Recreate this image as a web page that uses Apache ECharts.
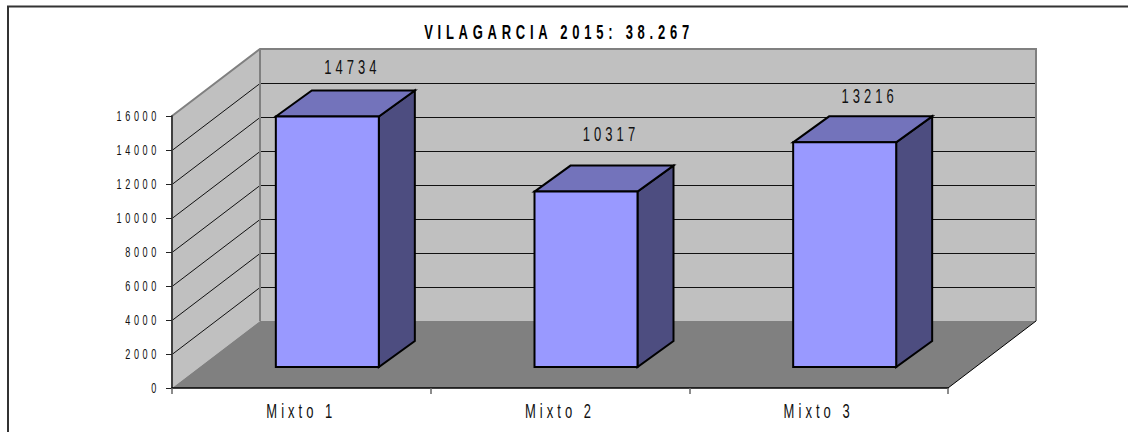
<!DOCTYPE html>
<html>
<head>
<meta charset="utf-8">
<style>
html,body{margin:0;padding:0;background:#fff}
#main{width:1128px;height:432px}
#main text{letter-spacing:5.6px}
#main text[style*="20px"]{letter-spacing:6.2px}
#main text[style*="bold"]{letter-spacing:7.3px}
</style>
<script src="https://cdn.jsdelivr.net/npm/echarts@6/dist/echarts.min.js"></script>
</head>
<body>
<div id="main"></div>
<script>
const chartTitle = 'VILAGARCIA 2015: 38.267';
const categories = ['Mixto 1', 'Mixto 2', 'Mixto 3'];
const values = [14734, 10317, 13216];
const yTicks = [0, 2000, 4000, 6000, 8000, 10000, 12000, 14000, 16000];
const labelLift = [49, 57, 46];

const DX = 88, DY = 67;        // depth of the plot box
const IN_X = 26, IN_Y = 21;    // front face of the bars inside the box
const BAR_DX = 36, BAR_DY = 26; // depth of one bar
const BAR_W = 103;
const FONT = '"Liberation Sans",Arial,sans-serif';
const NARROW = 0.65;           // horizontal squeeze of all text

function poly(points, fill, stroke, lw) {
  return { type: 'polygon', shape: { points }, style: { fill, stroke: stroke || 'none', lineWidth: lw || 0, lineJoin: 'miter' } };
}
function line(points, stroke, lw) {
  return { type: 'polyline', shape: { points }, style: { fill: 'none', stroke, lineWidth: lw } };
}

function renderBox(params, api) {
  const c = params.coordSys;
  const L = c.x, R = c.x + c.width, T = c.y, B = c.y + c.height;
  const kids = [];
  kids.push(poly([[L + DX, T - DY], [R + DX, T - DY], [R + DX, B - DY], [L + DX, B - DY]], '#C0C0C0'));
  kids.push(poly([[L, T], [L + DX, T - DY], [L + DX, B - DY], [L, B]], '#C0C0C0'));
  kids.push(poly([[L, B], [L + DX, B - DY], [R + DX, B - DY], [R, B]], '#808080'));
  yTicks.forEach(function (v) {
    if (v === yTicks[0] || v === yTicks[yTicks.length - 1]) return;
    const y = Math.round(api.coord([0, v])[1]) + 0.5;
    kids.push(line([[L, y], [L + DX, y - DY], [R + DX, y - DY]], '#111', 1));
  });
  kids.push(line([[L, T], [L + DX, T - DY], [R + DX, T - DY], [R + DX, B - DY]], '#808080', 2));
  kids.push(line([[L + DX, T - DY], [L + DX, B - DY]], '#808080', 2));
  kids.push(line([[R, B], [R + DX, B - DY]], '#000', 1));
  return { type: 'group', children: kids };
}

function renderBar(params, api) {
  const cat = api.value(0), val = api.value(1);
  const top = api.coord([cat, val]);
  const base = api.coord([cat, 0]);
  const xc = top[0] + IN_X;
  const x0 = xc - BAR_W / 2, x1 = xc + BAR_W / 2;
  const y0 = base[1] - IN_Y, y1 = top[1] - IN_Y;
  const st = '#000';
  return {
    type: 'group',
    children: [
      poly([[x1, y1], [x1 + BAR_DX, y1 - BAR_DY], [x1 + BAR_DX, y0 - BAR_DY], [x1, y0]], '#4D4D80', st, 2),
      poly([[x0, y1], [x0 + BAR_DX, y1 - BAR_DY], [x1 + BAR_DX, y1 - BAR_DY], [x1, y1]], '#7373BB', st, 2),
      poly([[x0, y1], [x1, y1], [x1, y0], [x0, y0]], '#9999FF', st, 2),
      {
        type: 'text',
        style: {
          text: String(val),
          x: xc + 25, y: y1 - labelLift[params.dataIndex],
          fill: '#111', font: '20px ' + FONT, align: 'center', verticalAlign: 'middle'
        }
      }
    ]
  };
}

const chart = echarts.init(document.getElementById('main'), null, { renderer: 'svg', width: 1128, height: 432 });
chart.setOption({
  animation: false,
  backgroundColor: '#fff',
  title: {
    text: chartTitle, left: 554, top: 17, textAlign: 'center',
    textStyle: { fontFamily: FONT, fontWeight: 'bold', fontSize: 20, color: '#000' }
  },
  grid: { left: 172, right: 180, top: 116, bottom: 44 },
  xAxis: {
    type: 'category', data: categories, z: 5,
    axisLine: { lineStyle: { color: '#000', width: 1.5 } },
    axisTick: { show: true, length: 6, lineStyle: { color: '#666', width: 1.5 } },
    axisLabel: { fontFamily: FONT, fontSize: 20, color: '#111', margin: 13 }
  },
  yAxis: {
    type: 'value', min: 0, max: 16000, interval: 2000, z: 5,
    splitLine: { show: false },
    axisLine: { show: true, lineStyle: { color: '#404040', width: 2 } },
    axisTick: { show: true, length: 6, lineStyle: { color: '#222', width: 1 } },
    axisLabel: { fontFamily: FONT, fontSize: 14, color: '#111', margin: 12, formatter: function (v) { return String(v); } }
  },
  graphic: [{
    type: 'polyline', silent: true,
    shape: { points: [[8, 432], [8, 6.5], [1128, 6.5]] },
    style: { fill: 'none', stroke: '#333', lineWidth: 2 }
  }],
  series: [
    { type: 'custom', coordinateSystem: 'cartesian2d', renderItem: renderBox, data: [[0, 0]], clip: false, silent: true, z: 1 },
    { type: 'custom', coordinateSystem: 'cartesian2d', renderItem: renderBar, encode: { x: 0, y: 1 }, clip: false, z: 2,
      data: categories.map(function (c, i) { return [i, values[i]]; }) }
  ]
});

function squeezeText() {
  document.querySelectorAll('#main svg text').forEach(function (el) {
    if (el.dataset.narrow) return;
    const x = parseFloat(el.getAttribute('x')) || 0;
    const prev = el.getAttribute('transform') || '';
    el.setAttribute('transform', prev + ' translate(' + x + ' 0) scale(' + NARROW + ' 1) translate(' + (-x) + ' 0)');
    el.dataset.narrow = '1';
  });
}
squeezeText();
chart.on('finished', squeezeText);
</script>
</body>
</html>
